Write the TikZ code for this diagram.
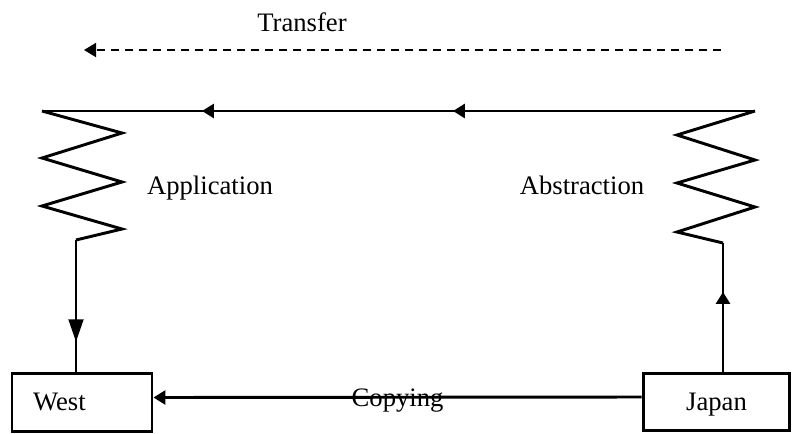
\documentclass[tikz,border=0pt]{standalone}
\usepackage{fontspec}
\setmainfont{Liberation Serif}
\usetikzlibrary{arrows.meta,decorations.markings}

\begin{document}
\begin{tikzpicture}[
    x=0.75pt, y=-0.75pt,
    font=\fontsize{20}{24}\selectfont,
    flow/.style={line width=2.2pt},
    box/.style={rectangle, draw, line width=2.2pt, minimum height=43pt, text height=15pt, text depth=3pt},
    label/.style={anchor=base, inner sep=0pt},
    headarrow/.style={-{Triangle[length=9pt, width=10.5pt]}}
]
    \useasboundingbox (0,0) rectangle (793,433);

    % Boxes
    \node[box, minimum width=105pt, text width=73.5pt, inner xsep=15.75pt, align=left] (west) at (82,402.5) {West};
    \node[box, minimum width=110pt] (japan) at (716.5,402) {Japan};

    % Corners of the loop
    \coordinate (tl) at (42,111);
    \coordinate (tr) at (755,111);
    \coordinate (lz) at (76,240);
    \coordinate (rz) at (723,243);

    % Transfer
    \coordinate (dstart) at (721,50);
    \coordinate (dend) at (84,50);
    \draw[line width=1.3pt, dash pattern=on 6pt off 4.5pt, headarrow] (dstart) -- (dend);
    \node[label] (transfer) at (302,31) {Transfer};

    % Top line
    \draw[flow, postaction={decorate}, decoration={markings,
        mark=at position 0.4236 with {\arrow{Triangle[length=9pt, width=10.5pt]}},
        mark=at position 0.7756 with {\arrow{Triangle[length=9pt, width=10.5pt]}}}]
        (tr) -- (tl);

    % Springs
    \draw[flow] (tl) -- (122,133) -- (42,158) -- (122,182) -- (42,206) -- (122,229) -- (lz);
    \draw[flow] (tr) -- (677,135) -- (755,160) -- (677,183) -- (755,207) -- (677,232) -- (rz);
    \node[label] (application) at (210,194) {Application};
    \node[label] (abstraction) at (582,194) {Abstraction};

    % Vertical arrows
    \draw[flow, postaction={decorate}, decoration={markings,
        mark=at position 0.77 with {\arrow{Triangle[length=17pt, width=11pt]}}}]
        (lz) -- (lz |- west.north);
    \draw[flow, postaction={decorate}, decoration={markings,
        mark=at position 0.62 with {\arrow{Triangle[length=9pt, width=10.5pt]}}}]
        (rz |- japan.north) -- (rz);

    % Copying
    \draw[flow, headarrow] ([yshift=3.75pt]japan.west) -- node[label, midway, yshift=-7pt] (copying) {Copying} ([yshift=3.75pt]west.east);
\end{tikzpicture}
\end{document}
